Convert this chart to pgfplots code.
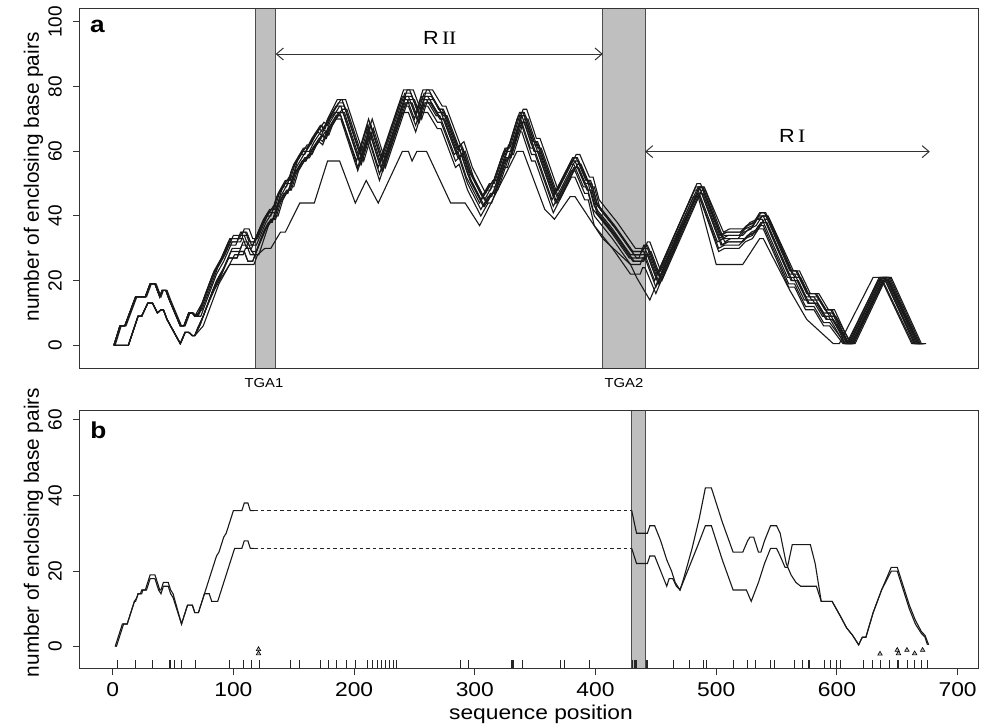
\documentclass[border=0pt]{standalone}
\usepackage{pgfplots}
\pgfplotsset{compat=1.18}
\usetikzlibrary{arrows.meta}
\usepackage{fontspec}
\setmainfont{Liberation Sans}[FakeStretch=1.14]
\newfontfamily\rotfont{Liberation Sans}
\newfontfamily\serifI{Liberation Serif}[FakeStretch=1.14]
\begin{document}
\begin{tikzpicture}
\useasboundingbox (0,0) rectangle (495pt,363pt);
\pgfplotsset{
  cv/.style={black!90, line width=0.55pt, no marks},
  panel/.style={anchor=south west, scale only axis, width=449pt,
    xmin=-27.1, xmax=716.9, ytick pos=left, xtick pos=bottom,
    tick align=outside, major tick length=3.5pt,
    axis on top, clip=false,
    axis line style={black!80, line width=0.5pt},
    tick style={black!80, line width=0.5pt},
    /pgf/number format/assume math mode=true,
    yticklabel style={font=\rotfont\fontsize{9.5}{11}\selectfont, xshift=-5.35pt, rotate=90, anchor=south, inner sep=0pt},
    xticklabel style={font=\fontsize{10}{12}\selectfont, anchor=north, inner sep=0pt, yshift=-3.5pt},
  },
}
% ---------------- panel a ----------------
\begin{axis}[panel, at={(40pt,178.85pt)}, height=180pt,
  ymin=-7.11, ymax=104.24, xtick=\empty, ytick={0,20,40,60,80,100}]
\fill[gray!50] (axis cs:118,-7.11) rectangle (axis cs:135,104.24);
\fill[gray!50] (axis cs:406,-7.11) rectangle (axis cs:441,104.24);
\draw[black!70, line width=0.5pt] (axis cs:118,-7.11) -- (axis cs:118,104.24) (axis cs:135,-7.11) -- (axis cs:135,104.24)
  (axis cs:406,-7.11) -- (axis cs:406,104.24) (axis cs:441,-7.11) -- (axis cs:441,104.24);
% A
\addplot[cv] coordinates {(1,0)(6,6)(10,6)(19,15)(27,15)(31,19)(35,19)(39,15)(41,17)(44,17)(47,14)(56,6)(59,6)(63,10)(66,10)(68,9)
(71,9)(76,15)(84,23)(90,27)(97,33)(104,33)(106,35)(110,35)(113,32)(117,32)(125,39)(130,42)(133,42)(137,47)(143,51)(146,51)(150,56)(158,61)(161,61)(165,64)(172,68)(175,67)(178,70)(186,76)(190,76)(204,60)(212,70)(222,58)(241,79)(246,79)(252,73)(257,79)(262,79)(270,73)(273,73)(285,61)(288,62)(295,54)(306,46)(312,50)(315,50)(325,61)(328,61)(337,72)(340,72)(348,63)(351,63)(366,47)(381,58)(384,58)(392,51)(395,51)(400,44)(415,37)(430,29)(438,29)(440,31)(442,31)(451,22)(484,50)(487,50)(503,34)(508,35)(520,35)(525,37)(531,38)(536,41)(540,41)(561,23)(566,23)(575,16)(582,16)(590,11)(595,11)(608,0.5)(611,0.5)(637,21)(641,21)(666,0.5)(670,0.5)};
% B
\addplot[cv] coordinates {(2,0)(7,6)(11,6)(20,15)(28,15)(32,19)(36,19)(40,15)(42,17)(45,17)(48,14)(57,6)(60,6)(64,10)(67,10)(69,9)
(73,9)(78,14)(86,22)(92,26)(99,32)(106,32)(108,34)(112,34)(115,31)(119,31)(127,38)(132,41)(135,41)(139,46)(145,50)(148,50)(152,55)(160,60)(163,60)(167,63)(174,67)(177,66)(180,69)(188,74)(192,74)(206,58)(214,68)(224,56)(243,77)(248,77)(254,71)(259,77)(264,77)(272,72)(275,72)(287,60)(290,61)(297,53)(308,45)(314,49)(317,49)(327,60)(330,60)(339,71)(342,71)(350,62)(353,62)(368,46)(383,57)(386,57)(394,50)(397,50)(402,43)(417,36)(432,28)(440,28)(442,30)(444,30)(453,21)(486,49)(489,49)(505,33)(510,34)(522,34)(527,36)(533,37)(538,40)(542,40)(563,22)(568,22)(577,15)(584,15)(592,10)(597,10)(610,0.5)(613,0.5)(639,21)(643,21)(668,0.5)(672,0.5)};
% C
\addplot[cv] coordinates {(1,0)(6,6)(10,6)(19,15)(27,15)(31,19)(35,19)(39,15)(41,17)(44,17)(47,14)(56,6)(59,6)(63,10)(66,10)(68,9)
(74,13)(82,21)(88,25)(95,31)(102,31)(104,33)(108,33)(111,30)(115,30)(123,37)(128,40)(131,40)(135,45)(141,49)(144,49)(148,54)(156,59)(159,59)(163,62)(170,66)(173,65)(176,68)(184,72)(188,72)(202,57)(210,67)(220,55)(239,76)(244,76)(250,70)(255,76)(260,76)(268,71)(271,71)(283,59)(286,60)(293,52)(304,44)(310,48)(313,48)(323,59)(326,59)(335,70)(338,70)(346,61)(349,61)(364,45)(379,56)(382,56)(390,49)(393,49)(398,42)(413,35)(428,27)(436,27)(438,29)(440,29)(449,20)(482,48)(485,48)(501,32)(506,33)(518,33)(523,35)(529,36)(534,39)(538,39)(559,21)(564,21)(573,14)(580,14)(588,9)(593,9)(606,0.5)(609,0.5)(635,21)(639,21)(664,0.5)(668,0.5)};
% D
\addplot[cv] coordinates {(1,0)(6,6)(10,6)(19,15)(27,15)(31,19)(35,19)(39,15)(41,17)(44,17)(47,14)(56,6)(59,6)(63,10)(66,10)(68,9)
(74,11)(79,16)(87,24)(93,28)(100,34)(107,34)(109,36)(113,36)(116,33)(120,33)(128,40)(133,43)(136,43)(140,48)(146,52)(149,52)(153,57)(161,62)(164,62)(168,65)(175,69)(178,68)(181,71)(189,76)(193,76)(207,60)(215,70)(225,58)(244,79)(249,79)(255,73)(260,79)(265,79)(273,74)(276,74)(288,62)(291,63)(298,55)(309,47)(315,51)(318,51)(328,62)(331,62)(340,73)(343,73)(351,64)(354,64)(369,48)(384,59)(387,59)(395,52)(398,52)(403,45)(418,38)(433,30)(441,30)(443,32)(445,32)(454,23)(487,49)(490,49)(506,35)(511,36)(523,36)(528,38)(534,39)(539,40)(543,40)(564,23)(569,23)(578,16)(585,16)(593,11)(598,11)(611,0.5)(614,0.5)(640,21)(644,21)(669,0.5)(673,0.5)};
% H
\addplot[cv] coordinates {(1,0)(6,6)(10,6)(19,15)(27,15)(31,19)(35,19)(39,15)(41,17)(44,17)(47,14)(56,6)(59,6)(63,10)(66,10)(68,9)
(70,9)(75,14)(83,22)(89,26)(96,32)(103,32)(105,34)(109,34)(112,31)(116,31)(124,38)(129,41)(132,41)(136,46)(142,50)(145,50)(149,55)(157,60)(160,60)(164,63)(171,67)(174,66)(177,69)(185,74)(189,74)(203,58)(211,68)(221,56)(240,77)(245,77)(251,71)(256,77)(261,77)(269,72)(272,72)(284,60)(287,61)(294,53)(305,45)(311,49)(314,49)(324,60)(327,60)(336,71)(339,71)(347,62)(350,62)(365,46)(380,57)(383,57)(391,50)(394,50)(399,43)(414,36)(429,28)(437,28)(439,30)(441,30)(450,21)(483,49)(486,49)(502,33)(507,34)(519,34)(524,36)(530,37)(535,40)(539,40)(560,22)(565,22)(574,15)(581,15)(589,10)(594,10)(607,0.5)(610,0.5)(636,21)(640,21)(665,0.5)(669,0.5)};
% I
\addplot[cv] coordinates {(1,0)(6,6)(10,6)(19,15)(27,15)(31,19)(35,19)(39,15)(41,17)(44,17)(47,14)(56,6)(59,6)(63,10)(66,10)(68,9)
(72,10)(77,15)(85,23)(91,27)(98,33)(105,33)(107,35)(111,35)(114,32)(118,32)(126,39)(131,42)(134,42)(138,47)(144,51)(147,51)(151,56)(159,61)(162,61)(166,64)(173,68)(176,67)(179,70)(187,75)(191,75)(205,59)(213,69)(223,57)(242,78)(247,78)(253,72)(258,78)(263,78)(271,73)(274,73)(286,61)(289,62)(296,54)(307,46)(313,50)(316,50)(326,61)(329,61)(338,72)(341,72)(349,63)(352,63)(367,47)(382,58)(385,58)(393,51)(396,51)(401,44)(416,37)(431,29)(439,29)(441,31)(443,31)(452,22)(485,49)(488,49)(504,34)(509,35)(521,35)(526,37)(532,38)(537,41)(541,41)(562,23)(567,23)(576,16)(583,16)(591,11)(596,11)(609,0.5)(612,0.5)(638,21)(642,21)(667,0.5)(671,0.5)};
% E
\addplot[cv] coordinates {(1,0)(13,0)(21,9)(24,9)(29,13)(33,13)(37,10)(40,11)(42,11)(45,8)(56,0.5)(60,4)(63,4)(66,3)(68,3)
(72,6)(77,11)(85,19)(91,23)(98,29)(105,29)(107,31)(111,31)(114,28)(118,28)(126,36)(131,39)(134,39)(138,44)(144,48)(147,48)(151,53)(159,58)(162,58)(166,61)(173,65)(176,64)(179,67)(187,72)(191,72)(205,56)(213,66)(223,54)(242,75)(247,75)(253,69)(258,75)(263,75)(271,70)(274,70)(286,58)(289,59)(296,51)(307,43)(313,47)(316,47)(326,58)(329,58)(338,69)(341,69)(349,60)(352,60)(367,44)(382,55)(385,55)(393,48)(396,48)(401,41)(416,34)(431,26)(439,26)(441,28)(443,28)(452,19)(485,47)(488,47)(504,31)(509,32)(521,32)(526,34)(532,35)(537,38)(541,38)(562,20)(567,20)(576,13)(583,13)(591,8)(596,8)(609,0.5)(612,0.5)(638,20)(642,20)(667,0.5)(671,0.5)};
% J
\addplot[cv] coordinates {(1,0)(13,0)(21,9)(24,9)(29,13)(33,13)(37,10)(40,11)(42,11)(45,8)(56,0.5)(60,4)(63,4)(66,3)(68,3)
(73,7)(78,12)(86,20)(92,24)(99,30)(106,30)(108,32)(112,32)(115,29)(119,29)(127,36)(132,39)(135,39)(139,44)(145,48)(148,48)(152,53)(160,58)(163,58)(167,61)(174,65)(177,64)(180,67)(188,72)(192,72)(206,56)(214,66)(224,54)(243,75)(248,75)(254,69)(259,75)(264,75)(272,70)(275,70)(287,58)(290,59)(297,51)(308,43)(314,47)(317,47)(327,58)(330,58)(339,69)(342,69)(350,60)(353,60)(368,44)(383,55)(386,55)(394,48)(397,48)(402,41)(417,34)(432,26)(440,26)(442,28)(444,28)(453,19)(486,47)(489,47)(505,31)(510,32)(522,32)(527,34)(533,35)(538,38)(542,38)(563,20)(568,20)(577,13)(584,13)(592,8)(597,8)(610,0.5)(613,0.5)(639,20)(643,20)(668,0.5)(672,0.5)};
% F
\addplot[cv] coordinates {(1,0)(13,0)(21,9)(24,9)(29,13)(33,13)(37,10)(40,11)(42,11)(45,8)(56,0.5)(60,4)(63,4)(66,3)(68,3)
(70,5)(75,9)(83,17)(89,21)(96,27)(103,27)(105,29)(109,29)(112,26)(116,26)(124,34)(129,38)(132,38)(136,43)(142,47)(145,47)(149,52)(157,57)(160,57)(164,60)(171,64)(174,63)(177,66)(185,71)(189,71)(203,55)(211,65)(221,53)(240,74)(245,74)(251,68)(256,74)(261,74)(269,69)(272,69)(284,57)(287,58)(294,50)(305,42)(311,46)(314,46)(324,57)(327,57)(336,68)(339,68)(347,59)(350,59)(365,43)(380,54)(383,54)(391,47)(394,47)(399,40)(414,33)(429,25)(437,25)(439,27)(441,27)(450,18)(483,46)(486,46)(502,30)(507,31)(519,31)(524,33)(530,34)(535,37)(539,37)(560,19)(565,19)(574,12)(581,12)(589,7)(594,7)(607,0.5)(610,0.5)(636,20)(640,20)(665,0.5)(669,0.5)};
% G
\addplot[cv] coordinates {(1,0)(13,0)(21,9)(24,9)(29,13)(33,13)(37,10)(40,11)(42,11)(45,8)(56,0.5)(60,4)(63,4)(66,3)(68,3)
(75,6)(80,11)(88,19)(94,23)(101,28)(108,28)(110,30)(114,30)(117,28)(121,28)(129,37)(134,40)(137,40)(141,45)(147,49)(150,49)(154,54)(162,59)(165,59)(169,62)(176,66)(179,65)(182,68)(190,73)(194,73)(208,57)(216,67)(226,55)(245,76)(250,76)(256,70)(261,76)(266,76)(274,71)(277,71)(289,59)(292,60)(299,52)(310,44)(316,48)(319,48)(329,59)(332,59)(341,70)(344,70)(352,61)(355,61)(370,45)(385,56)(388,56)(396,49)(399,49)(404,42)(419,35)(434,27)(442,27)(444,29)(446,29)(455,20)(488,48)(491,48)(507,32)(512,33)(524,33)(529,35)(535,36)(540,39)(544,39)(565,21)(570,21)(579,14)(586,14)(594,9)(599,9)(612,0.5)(615,0.5)(641,21)(645,21)(670,0.5)(674,0.5)};
% O1
\addplot[cv] coordinates {(1,0)(13,0)(21,9)(24,9)(29,13)(33,13)(37,10)(40,11)(42,11)(45,8)(56,0.5)(60,4)(63,4)(66,3)(68,3)
(72,6)(77,11)(84,17)(90,21)(97,25)(117,25)(120,28)(126,30)(131,30)(139,35)(143,35)(155,44)(167,44)(178,57)(188,57)(201,44)(210,51)(220,44)(240,60)(245,60)(248,57)(252,60)(260,60)(280,44)(292,44)(304,37)(335,60)(340,60)(358,42)(366,39)(379,46)(383,46)(406,33)(429,25)(434,21)(445,14)(481,46)(485,46)(500,25)(522,25)(536,33)(539,33)(561,17)(575,8)(597,0.5)(602,0.5)(630,21)(636,21)(662,0.5)(665,0.5)};
% O2
\addplot[cv] coordinates {(1,0)(13,0)(21,9)(24,9)(29,13)(33,13)(37,10)(40,11)(42,11)(45,8)(56,0.5)(60,4)(63,4)(66,3)(68,3)
(70,5)(75,9)(83,17)(89,21)(96,27)(103,27)(105,29)(109,29)(112,26)(116,26)(124,34)(129,38)(132,38)(136,43)(142,47)(145,47)(149,52)(157,57)(160,57)(164,60)(171,63)(174,62)(177,65)(185,70)(189,70)(203,54)(211,63)(221,51)(240,72)(245,72)(251,66)(256,72)(261,72)(269,67)(272,67)(284,55)(287,56)(294,48)(305,40)(311,44)(314,44)(324,55)(327,55)(336,66)(339,66)(347,57)(350,57)(365,41)(380,52)(383,52)(391,45)(394,45)(399,37)(414,30)(429,22)(437,22)(439,24)(441,24)(450,16)(483,46)(486,46)(502,29)(507,30)(519,30)(524,32)(530,33)(535,36)(539,36)(560,18)(565,18)(574,11)(581,11)(589,6)(594,6)(605,0.5)(608,0.5)(634,20)(638,20)(663,0.5)(667,0.5)};
% annotations
\draw[black!80, line width=0.5pt, {Straight Barb[length=3.5pt,width=6pt]}-{Straight Barb[length=3.5pt,width=6pt]}] (axis cs:135,90.1) -- (axis cs:406,90.1);
\draw[black!80, line width=0.5pt, {Straight Barb[length=3.5pt,width=6pt]}-{Straight Barb[length=3.5pt,width=6pt]}] (axis cs:441,59.9) -- (axis cs:677,59.9);
\node[anchor=base, font=\fontsize{9.5}{11}\selectfont] at (axis cs:271,92.9) {R\,{\serifI II}};
\node[anchor=base, font=\fontsize{9.5}{11}\selectfont] at (axis cs:563,62.7) {R\,{\serifI I}};
\node[font=\bfseries\fontsize{11.5}{13}\selectfont] at (axis cs:-12.6,98.6) {a};
\end{axis}
% ---------------- panel b ----------------
\begin{axis}[panel, at={(40pt,28.85pt)}, height=128.8pt,
  ymin=-5.71, ymax=62.43, xtick={0,100,200,300,400,500,600,700}, ytick={0,20,40,60}]
\fill[gray!50] (axis cs:430,-5.71) rectangle (axis cs:441,62.43);
\draw[black!70, line width=0.5pt] (axis cs:430,-5.71) -- (axis cs:430,62.43) (axis cs:441,-5.71) -- (axis cs:441,62.43);
\addplot[cv] coordinates {(2,0)(8,6)(12,6)(18,12)(19,12)(21,14)(23,14)(24,15)(27,15)(30,18)(31,19)(35,19)(38,16)(39,15)(40,15)(42,17)(46,17)(48,15)(50,14)(57,6)(62,11)(66,11)(68,9)(71,9)(76,14)(78,16)(80,18)(84,22)(86,24)(88,25)(92,29)(94,30)(97,33)(100,36)(107,36)(109,38)(112,38)(114,36)(117,36)};
\addplot[cv] coordinates {(3,0)(9,6)(12,6)(18,12)(20,13)(21,14)(24,14)(25,15)(28,15)(31,18)(35,18)(38,15)(40,14)(42,16)(46,16)(48,14)(50,13)(57,6)(62,11)(66,11)(68,9)(71,9)(76,14)(80,14)(82,12)(87,12)(90,15)(95,20)(98,23)(101,26)(107,26)(109,28)(112,28)(114,26)(117,26)};
\addplot[black!85, line width=0.45pt, dash pattern=on 1.8pt off 1.5pt] coordinates {(117,36)(430,36)};
\addplot[black!85, line width=0.45pt, dash pattern=on 1.8pt off 1.5pt] coordinates {(117,26)(430,26)};
\addplot[cv] coordinates {(430,36)(434,30)(443,30)(445,32)(449,32)(454,28)(459,23)(463,20)(466,17)(470,15)(473,18)(480,26)(486,34)(491,42)(496,42)(505,33)(514,25)(522,25)(526,28)(528,29)(531,29)(535,25)(537,25)(540,28)(545,32)(550,32)(553,30)(558,22)(562,19)(566,17)(570,16)(583,16)(587,12)(596,12)(603,8)(608,5)(613,3)(618,0.5)(621,2.5)(624,2.5)(630,9)(637,15)(645,21)(650,21)(655,16)(660,11)(665,7)(670,4)(673,3)(676,0.5)};
\addplot[cv] coordinates {(430,26)(434,22)(443,22)(445,24)(449,24)(454,20)(459,16)(461,18)(464,18)(467,16)(470,15)(475,19)(480,23)(485,27)(491,32)(496,32)(505,23)(514,15)(525,15)(529,12)(535,17)(540,22)(545,26)(550,26)(553,24)(557,21)(559,21)(563,27)(578,27)(582,22)(587,12)(596,12)(603,8)(608,5)(613,3)(618,0.5)(621,2.5)(624,2.5)(630,9)(637,15)(645,20)(650,20)(655,15)(660,10)(665,6)(670,3.5)(673,2.5)(675,0.5)};
% rug
\addplot[only marks, mark=|, mark size=2.1pt, mark options={black!85, line width=0.5pt}] coordinates {
(3.6,-4.6)(18.7,-4.6)(32.6,-4.6)(46.9,-4.6)(48,-4.6)(51.4,-4.6)(57.4,-4.6)(69,-4.6)(97,-4.6)(108,-4.6)(114.8,-4.6)(121.5,-4.6)(147,-4.6)(154.6,-4.6)(172.3,-4.6)(178.4,-4.6)(185,-4.6)(193.3,-4.6)(201,-4.6)(211.5,-4.6)(215.4,-4.6)(219.2,-4.6)(223.1,-4.6)(226.4,-4.6)(229.2,-4.6)(232.5,-4.6)(235.3,-4.6)(288,-4.6)(294.4,-4.6)(330.2,-4.6)(331.4,-4.6)(332.4,-4.6)(339.7,-4.6)(371.2,-4.6)(373.9,-4.6)(394.9,-4.6)(431,-4.6)(432,-4.6)(433,-4.6)(434,-4.6)(442.4,-4.6)(443,-4.6)(465,-4.6)(477.7,-4.6)(489.3,-4.6)(492.1,-4.6)(514.2,-4.6)(526.3,-4.6)(532.4,-4.6)(544.6,-4.6)(547.9,-4.6)(565,-4.6)(571.6,-4.6)(576.6,-4.6)(577.2,-4.6)(589.3,-4.6)(594.3,-4.6)(600,-4.6)(602.6,-4.6)(622.4,-4.6)(629.6,-4.6)(635.7,-4.6)(643.4,-4.6)(650.3,-4.6)(650.9,-4.6)(658.3,-4.6)(664.4,-4.6)(670,-4.6)(674.9,-4.6)};
\addplot[only marks, mark=triangle*, mark size=1.3pt, mark options={fill=gray!60, draw=black, line width=0.3pt}] coordinates {
(120.8,-0.7)(120.8,-1.8)(635.7,-1.9)(650,-0.9)(651,-1.8)(658,-0.9)(664.4,-1.8)(671,-0.9)};
\node[font=\bfseries\fontsize{11.5}{13}\selectfont] at (axis cs:-11.9,57.2) {b};
\end{axis}
% outer labels
\node[rotate=90, font=\rotfont\fontsize{10.4}{12}\selectfont] at (16.7pt,274.5pt) {number of enclosing base pairs};
\node[rotate=90, font=\rotfont\fontsize{10.4}{12}\selectfont] at (16.7pt,96.75pt) {number of enclosing base pairs};
\node[anchor=base, font=\fontsize{10}{12}\selectfont] at (270.5pt,3pt) {sequence position};
\node[anchor=base, font=\fontsize{6.5}{8}\selectfont] at (132pt,169pt) {TGA1};
\node[anchor=base, font=\fontsize{6.5}{8}\selectfont] at (312pt,169pt) {TGA2};
\end{tikzpicture}
\end{document}
